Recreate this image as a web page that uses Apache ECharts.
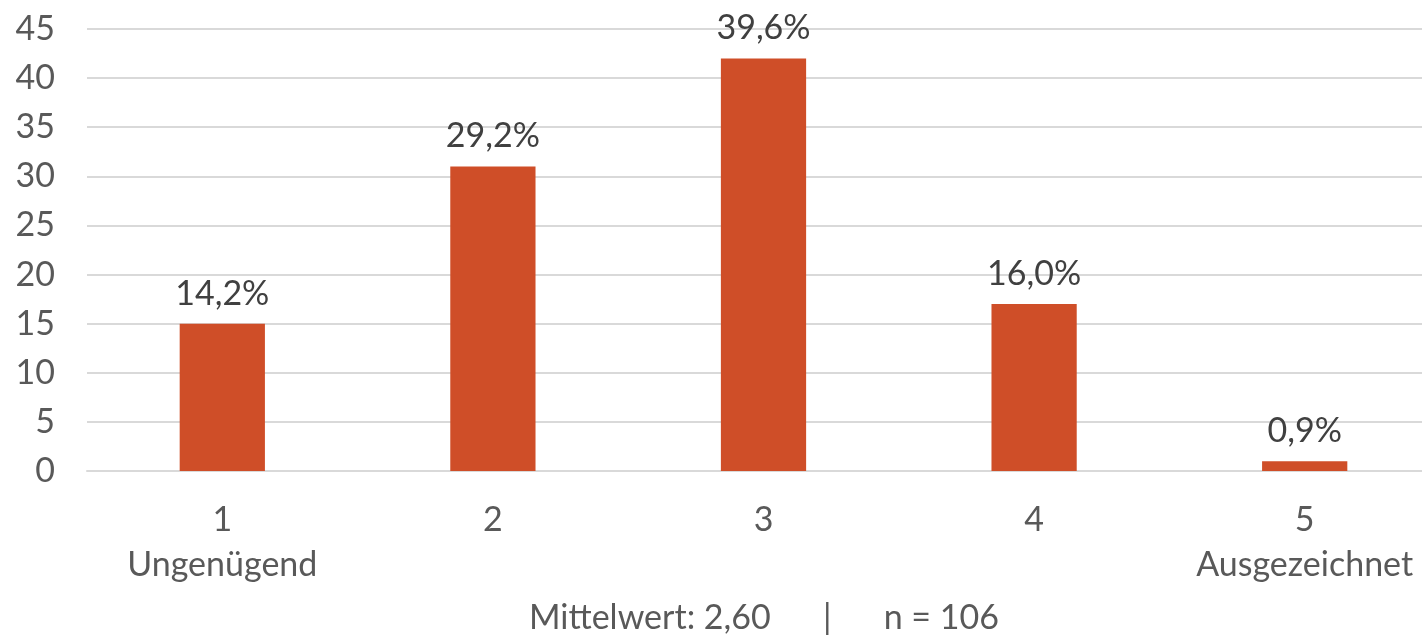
<!DOCTYPE html>
<html><head><meta charset="utf-8">
<script src="https://cdn.jsdelivr.net/npm/echarts@6/dist/echarts.min.js"></script>
<style>html,body{margin:0;padding:0;background:#fff;overflow:hidden}#c{width:1440px;height:637px}</style>
</head><body><div id="c"></div>
<script>
const categories = ['1\nUngenügend', '2', '3', '4', '5\nAusgezeichnet'];
const counts = [15, 31, 42, 17, 1];
const percentLabels = ['14,2%', '29,2%', '39,6%', '16,0%', '0,9%'];
const footer = 'Mittelwert: 2,60      |      n = 106';
const FONT = 'Lato';
const chart = echarts.init(document.getElementById('c'));
chart.setOption({
  animation: false,
  grid: {left: 87, right: 0, top: 29, bottom: 166},
  xAxis: {
    type: 'category', data: categories,
    axisLine: {show: true, lineStyle: {color: '#D9D9D9', width: 2}},
    axisTick: {show: false},
    axisLabel: {interval: 0, color: '#595959', fontFamily: FONT, fontSize: 34, lineHeight: 45, margin: 27}
  },
  yAxis: {
    type: 'value', min: 0, max: 45, interval: 5,
    axisLine: {show: false}, axisTick: {show: false},
    splitLine: {lineStyle: {color: '#D9D9D9', width: 2}},
    axisLabel: {color: '#595959', fontFamily: FONT, fontSize: 34, margin: 32}
  },
  graphic: [{
    type: 'text', x: 764, y: 618,
    style: {text: footer, fill: '#595959', font: '34px ' + FONT, textAlign: 'center', textVerticalAlign: 'middle'}
  }],
  series: [{
    type: 'bar', data: counts, barWidth: '31.5%',
    itemStyle: {color: '#CF4E28'},
    label: {
      show: true, position: 'top', distance: 13,
      formatter: p => percentLabels[p.dataIndex],
      color: '#404040', fontFamily: FONT, fontSize: 34
    }
  }]
});
</script></body></html>
